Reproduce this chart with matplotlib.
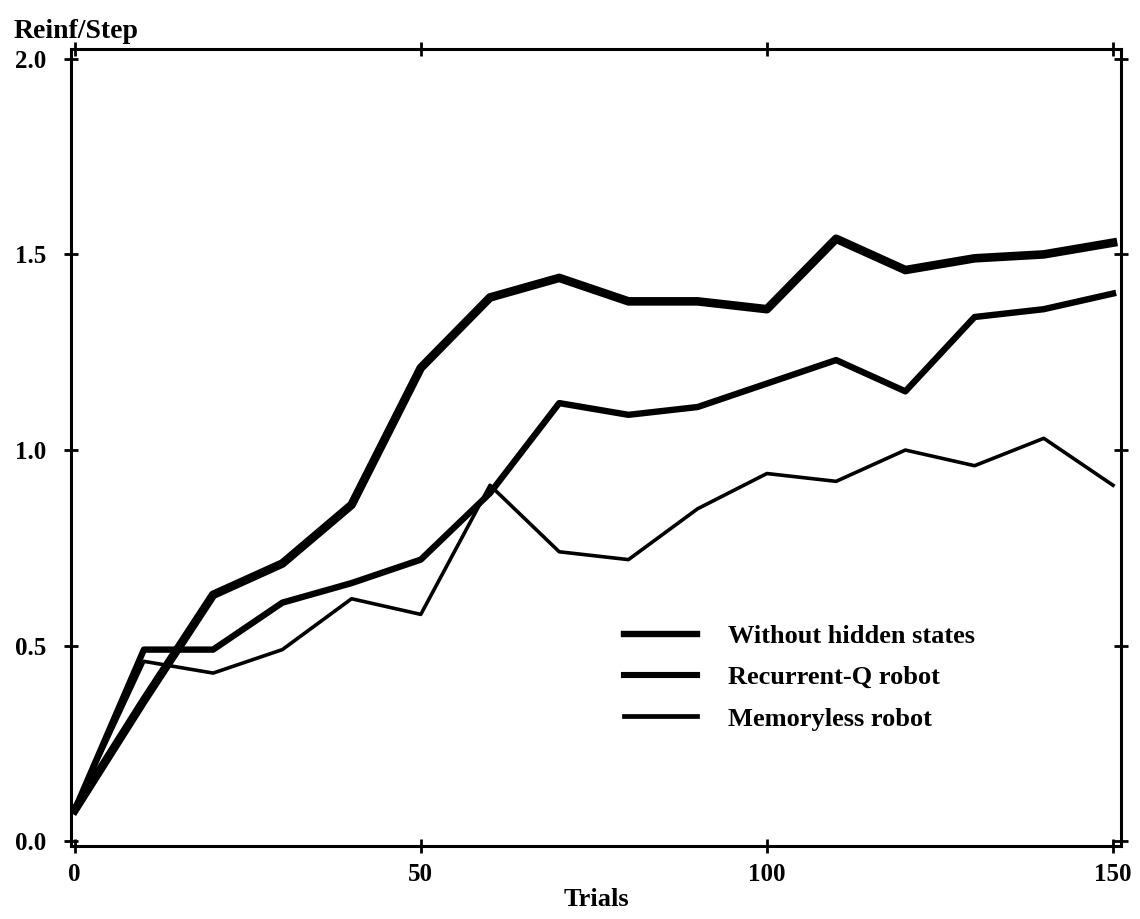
import matplotlib.pyplot as plt

plt.rcParams['font.family'] = ['Liberation Serif', 'DejaVu Serif']
plt.rcParams['font.weight'] = 'bold'

trials = [0, 10, 20, 30, 40, 50, 60, 70, 80, 90, 100, 110, 120, 130, 140, 150]
without_hidden = [0.08, 0.36, 0.63, 0.71, 0.86, 1.21, 1.39, 1.44, 1.38, 1.38, 1.36, 1.54, 1.46, 1.49, 1.50, 1.53]
recurrent_q = [0.08, 0.49, 0.49, 0.61, 0.66, 0.72, 0.89, 1.12, 1.09, 1.11, 1.17, 1.23, 1.15, 1.34, 1.36, 1.40]
memoryless = [0.08, 0.46, 0.43, 0.49, 0.62, 0.58, 0.91, 0.74, 0.72, 0.85, 0.94, 0.92, 1.00, 0.96, 1.03, 0.91]
labels = ['Without hidden states', 'Recurrent-Q robot', 'Memoryless robot']

fig = plt.figure(figsize=(11.4, 9.19), dpi=100)
ax = fig.add_axes([0.0623, 0.0794, 0.921, 0.8673])

ax.plot(trials, without_hidden, color='black', lw=6.2, solid_joinstyle='round', label=labels[0])
ax.plot(trials, recurrent_q, color='black', lw=4.6, solid_joinstyle='round', label=labels[1])
ax.plot(trials, memoryless, color='black', lw=2.6, solid_joinstyle='round', label=labels[2])

ax.set_xlim(-0.53, 151.15)
ax.set_ylim(-0.012, 2.025)
ax.set_xticks([0, 50, 100, 150])
ax.set_yticks([0.0, 0.5, 1.0, 1.5, 2.0])
ax.set_yticklabels(['0.0', '0.5', '1.0', '1.5', '2.0'])
ax.tick_params(direction='inout', length=10, width=2, labelsize=18,
               top=True, right=True, pad=7)
ax.tick_params(axis='y', pad=13)
for s in ax.spines.values():
    s.set_linewidth(2.2)

ax.set_xlabel('Trials', fontsize=19, fontweight='bold', labelpad=2)
fig.text(0.012, 0.966, 'Reinf/Step', fontsize=20, fontweight='bold', ha='left', va='center')

leg = ax.legend(loc='upper left', bbox_to_anchor=(0.504, 0.308), frameon=False,
                fontsize=19, handlelength=2.75, handletextpad=1.2, labelspacing=0.68)
for ln, w in zip(leg.get_lines(), [4.6, 4.4, 3.4]):
    ln.set_linewidth(w)

fig.savefig('out.png', dpi=100)
